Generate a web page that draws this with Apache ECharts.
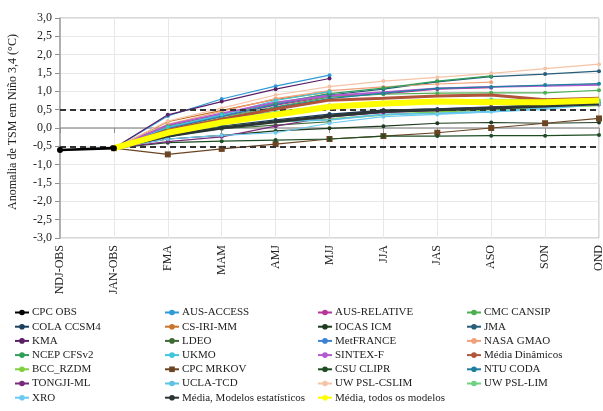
<!DOCTYPE html>
<html>
<head>
<meta charset="utf-8">
<script src="https://cdn.jsdelivr.net/npm/echarts@6/dist/echarts.min.js"></script>
<style>
  html, body { margin: 0; padding: 0; background: #ffffff; }
  #chart { width: 603px; height: 411px; }
</style>
</head>
<body>
<div id="chart"></div>
<script>
// Seasons on the horizontal axis
const categories = ['NDJ-OBS', 'JAN-OBS', 'FMA', 'MAM', 'AMJ', 'MJJ', 'JJA', 'JAS', 'ASO', 'SON', 'OND'];

// Niño 3.4 SST anomaly (°C): observations and model forecasts
const cpcObs = [-0.60, -0.55];
const ausAccess = [null, -0.55, 0.33, 0.79, 1.14, 1.44];
const ausRelative = [null, -0.55, 0.02, 0.32, 0.62, 0.86, 0.93, 1.06, 1.10];
const cmcCansip = [null, -0.55, 0.00, 0.30, 0.58, 0.84, 0.92, 0.95, 0.96, 0.96, 1.03];
const colaCcsm4 = [null, -0.55, -0.25, 0.05, 0.22, 0.38, 0.49, 0.52, 0.58, 0.63, 0.68];
const csIriMm = [null, -0.55, 0.17, 0.48, 0.78, 0.98];
const iocasIcm = [null, -0.55, -0.30, -0.20, -0.08, -0.01, 0.05, 0.13, 0.15, 0.13, 0.15];
const jma = [null, -0.55, -0.02, 0.32, 0.64, 0.90, 1.06, 1.26, 1.40, 1.47, 1.55];
const kma = [null, -0.55, 0.36, 0.72, 1.06, 1.35];
const ldeo = [null, -0.55, -0.20, -0.02, 0.08, 0.17];
const metFrance = [null, -0.55, 0.00, 0.33, 0.66, 0.93];
const nasaGmao = [null, -0.55, 0.10, 0.45, 0.80, 1.02, 1.12, 1.20, 1.25];
const ncepCfsv2 = [null, -0.55, 0.05, 0.38, 0.68, 0.94, 1.09, 1.28, 1.42];
const ukmo = [null, -0.55, 0.02, 0.36, 0.75, 0.99];
const sintexF = [null, -0.55, 0.08, 0.40, 0.70, 0.88, 0.98, 1.08, 1.12, 1.15, 1.18];
const mediaDinamicos = [null, -0.55, -0.06, 0.24, 0.52, 0.76, 0.81, 0.87, 0.90, 0.77, 0.81];
const bccRzdm = [null, -0.55, -0.18, 0.02, 0.17, 0.24, 0.36, 0.44, 0.50, 0.56, 0.62];
const cpcMrkov = [null, -0.55, -0.72, -0.57, -0.44, -0.30, -0.22, -0.13, 0.00, 0.13, 0.26];
const csuClipr = [null, -0.55, -0.40, -0.36, -0.33, -0.30, -0.22, -0.22, -0.21, -0.21, -0.19];
const ntuCoda = [null, -0.55, -0.04, 0.26, 0.56, 0.80, 0.95, 1.08, 1.12, 1.17, 1.21];
const tongjiMl = [null, -0.55, -0.37, -0.24, 0.05, 0.30, 0.42, 0.48, 0.56, 0.60, 0.64];
const uclaTcd = [null, -0.55, -0.22, 0.00, 0.18, 0.22, 0.37, 0.40, 0.45, 0.54, 0.66];
const uwPslCslim = [null, -0.55, 0.19, 0.54, 0.90, 1.13, 1.28, 1.38, 1.49, 1.62, 1.74];
const uwPslLim = [null, -0.55, -0.04, 0.24, 0.45, 0.62, 0.70, 0.74, 0.78, 0.77, 0.76];
const xro = [null, -0.55, -0.30, -0.20, -0.13, 0.13, 0.31, 0.37, 0.44, 0.51, 0.66];
const mediaEstatisticos = [null, -0.55, -0.22, 0.00, 0.17, 0.33, 0.46, 0.50, 0.54, 0.60, 0.66];
const mediaTodos = [null, -0.55, -0.13, 0.15, 0.36, 0.58, 0.67, 0.72, 0.70, 0.70, 0.75];

// Neutral-state thresholds (°C)
const thresholds = [0.5, -0.5];

const FONT = "'Liberation Serif', 'Times New Roman', serif";

// name, data, colour, kind
const seriesDefs = [
  ['CPC OBS', cpcObs, '#000000', 'obs'],
  ['AUS-ACCESS', ausAccess, '#2e9bd6', 'model'],
  ['AUS-RELATIVE', ausRelative, '#b5359b', 'model'],
  ['CMC CANSIP', cmcCansip, '#4caf50', 'model'],
  ['COLA CCSM4', colaCcsm4, '#1b3f5e', 'model'],
  ['CS-IRI-MM', csIriMm, '#c8742c', 'model'],
  ['IOCAS ICM', iocasIcm, '#1f3b1f', 'model'],
  ['JMA', jma, '#275d7a', 'model'],
  ['KMA', kma, '#5b1f66', 'model'],
  ['LDEO', ldeo, '#3d6b35', 'model'],
  ['MetFRANCE', metFrance, '#3b82d6', 'model'],
  ['NASA GMAO', nasaGmao, '#f0a07a', 'model'],
  ['NCEP CFSv2', ncepCfsv2, '#2e9e58', 'model'],
  ['UKMO', ukmo, '#3dc8dc', 'model'],
  ['SINTEX-F', sintexF, '#b45ad0', 'plain'],
  ['Média Dinâmicos', mediaDinamicos, '#b0553a', 'mean'],
  ['BCC_RZDM', bccRzdm, '#7fcf3f', 'plain'],
  ['CPC MRKOV', cpcMrkov, '#6b4423', 'square'],
  ['CSU CLIPR', csuClipr, '#1e4d24', 'model'],
  ['NTU CODA', ntuCoda, '#1f7f9f', 'model'],
  ['TONGJI-ML', tongjiMl, '#7a2a7a', 'model'],
  ['UCLA-TCD', uclaTcd, '#5ec3e3', 'plain'],
  ['UW PSL-CSLIM', uwPslCslim, '#f5c4a8', 'model'],
  ['UW PSL-LIM', uwPslLim, '#6fd17f', 'model'],
  ['XRO', xro, '#6ccaf2', 'model'],
  ['Média, Modelos estatísticos', mediaEstatisticos, '#2b3535', 'mean'],
  ['Média, todos os modelos', mediaTodos, '#ffff00', 'allmean']
];

function buildSeries(def) {
  const [name, data, color, kind] = def;
  const s = {
    name: name,
    type: 'line',
    data: data,
    color: color,
    smooth: false,
    animation: false,
    showSymbol: true,
    symbol: 'circle',
    symbolSize: 4,
    lineStyle: { width: 1.2, color: color },
    itemStyle: { color: color },
    z: 3
  };
  if (kind === 'obs') {
    s.symbolSize = 6;
    s.lineStyle.width = 2.6;
    s.z = 8;
  } else if (kind === 'plain') {
    s.symbol = 'none';
    s.lineStyle.width = 1.8;
  } else if (kind === 'square') {
    s.symbol = 'rect';
    s.symbolSize = 6;
  } else if (kind === 'mean') {
    s.symbol = 'none';
    s.lineStyle.width = 3;
    s.z = 5;
  } else if (kind === 'allmean') {
    s.symbol = 'none';
    s.lineStyle.width = 6;
    s.z = 6;
  }
  return s;
}

const series = seriesDefs.map(buildSeries);

// Dashed threshold lines drawn on top of the plume
series.push({
  name: 'limiares',
  type: 'line',
  data: [],
  z: 10,
  silent: true,
  animation: false,
  markLine: {
    silent: true,
    symbol: 'none',
    animation: false,
    label: { show: false },
    lineStyle: { color: '#333333', width: 2, type: [6, 4] },
    data: thresholds.map(v => ({ yAxis: v }))
  }
});

const columns = [
  ['CPC OBS', 'COLA CCSM4', 'KMA', 'NCEP CFSv2', 'BCC_RZDM', 'TONGJI-ML', 'XRO'],
  ['AUS-ACCESS', 'CS-IRI-MM', 'LDEO', 'UKMO', 'CPC MRKOV', 'UCLA-TCD', 'Média, Modelos estatísticos'],
  ['AUS-RELATIVE', 'IOCAS ICM', 'MetFRANCE', 'SINTEX-F', 'CSU CLIPR', 'UW PSL-CSLIM', 'Média, todos os modelos'],
  ['CMC CANSIP', 'JMA', 'NASA GMAO', 'Média Dinâmicos', 'NTU CODA', 'UW PSL-LIM']
];
const columnLeft = [14, 164, 317, 466];

const legends = columns.map((names, i) => ({
  orient: 'vertical',
  left: columnLeft[i],
  top: 307,
  itemWidth: 14,
  itemHeight: 7,
  itemGap: 3.2,
  padding: 0,
  selectedMode: false,
  data: names,
  textStyle: { fontFamily: FONT, fontSize: 11, color: '#222222', lineHeight: 10, padding: [0, 0, 0, -2] }
}));

const option = {
  backgroundColor: '#ffffff',
  animation: false,
  grid: {
    left: 60, right: 4, top: 18, bottom: 173,
    outerBoundsMode: 'none',
    containLabel: false,
    show: true, borderColor: '#b0b0b0', borderWidth: 1
  },
  legend: legends,
  xAxis: {
    type: 'category',
    data: categories,
    boundaryGap: false,
    axisLine: { show: true, lineStyle: { color: '#a0a0a0', width: 1.5 } },
    axisTick: { show: true, alignWithLabel: true, length: 5, lineStyle: { color: '#909090' } },
    axisLabel: { rotate: 90, margin: 7, fontFamily: FONT, fontSize: 12, color: '#222222' },
    splitLine: { show: true, lineStyle: { color: '#e8e8e8', width: 1 } }
  },
  yAxis: {
    type: 'value',
    min: -3, max: 3, interval: 0.5,
    name: 'Anomalia de TSM em Niño 3,4 (°C)',
    nameLocation: 'middle',
    nameRotate: 90,
    nameGap: 41,
    nameTextStyle: { fontFamily: FONT, fontSize: 12, color: '#222222', padding: [0, 0, 0, 12] },
    axisLine: { show: true, lineStyle: { color: '#a0a0a0', width: 1.5 } },
    axisTick: { show: true, length: 5, lineStyle: { color: '#909090' } },
    axisLabel: {
      fontFamily: FONT, fontSize: 12, color: '#222222', margin: 8,
      formatter: v => v.toFixed(1).replace('.', ',')
    },
    splitLine: { show: true, lineStyle: { color: '#e8e8e8', width: 1 } }
  },
  series: series
};

const chart = echarts.init(document.getElementById('chart'), null, { renderer: 'canvas' });
chart.setOption(option);
</script>
</body>
</html>
